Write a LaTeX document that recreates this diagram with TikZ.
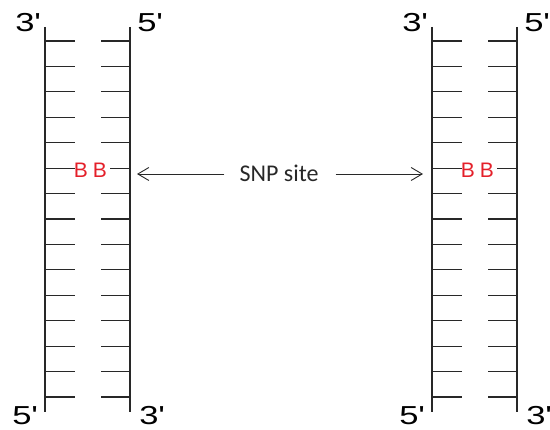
\documentclass[tikz,border=0pt]{standalone}
\usepackage{fontspec}
\newfontfamily\arialf{Liberation Sans}
\newfontfamily\calf{Carlito}
\usetikzlibrary{arrows.meta}
\definecolor{ink}{RGB}{40,40,40}
\definecolor{snpred}{RGB}{228,32,42}
\begin{document}
\begin{tikzpicture}[x=1pt,y=-1pt,
  strand/.style={draw=ink,line width=1.3pt},
  rung/.style={draw=ink,line width=1.2pt},
  endlbl/.style={font=\arialf\fontsize{26}{30}\selectfont,inner sep=0pt,anchor=base west,text=black,xscale=1.33},
  baselbl/.style={font=\arialf\fontsize{21}{25}\selectfont,inner sep=0pt,anchor=base,text=snpred},
  snplbl/.style={font=\calf\fontsize{24}{29}\selectfont,inner sep=0pt,anchor=base,text=ink},
  arr/.style={draw=ink,line width=0.9pt,-{Straight Barb[length=11pt,width=13pt,line width=0.9pt]}}]
\useasboundingbox (0,0) rectangle (550,430);
\foreach \dx/\nm in {0/a,387/b}{
  \begin{scope}[xshift=\dx pt]
    \coordinate (\nm top1) at (45,27);
    \coordinate (\nm bot1) at (45,412);
    \coordinate (\nm top2) at (130,27);
    \coordinate (\nm bot2) at (130,412);
    \draw[strand] (\nm top1) -- (\nm bot1);
    \draw[strand] (\nm top2) -- (\nm bot2);
    \foreach \i in {0,...,14}{
      \pgfmathsetmacro{\yy}{41+25.43*\i}
      \draw[rung] (45,\yy) -- (75,\yy);
      \ifnum\i=5
        \draw[rung] (110,\yy) -- (130,\yy);
      \else
        \draw[rung] (101,\yy) -- (130,\yy);
      \fi
    }
    \node[baselbl] (\nm B1) at (81,178) {B};
    \node[baselbl] (\nm B2) at (100,178) {B};
    \node[endlbl] (\nm t3) at (15,32) {3'};
    \node[endlbl] (\nm t5) at (137,32) {5'};
    \node[endlbl] (\nm b5) at (12,425) {5'};
    \node[endlbl] (\nm b3) at (139,425) {3'};
  \end{scope}
}
\node[snplbl] (snp) at (279,182) {SNP site};
\coordinate (snpL) at (137,174);
\coordinate (snpR) at (423,174);
\draw[arr] ([xshift=-15pt,yshift=8pt]snp.base west) -- (snpL);
\draw[arr] ([xshift=17pt,yshift=8pt]snp.base east) -- (snpR);
\end{tikzpicture}
\end{document}
